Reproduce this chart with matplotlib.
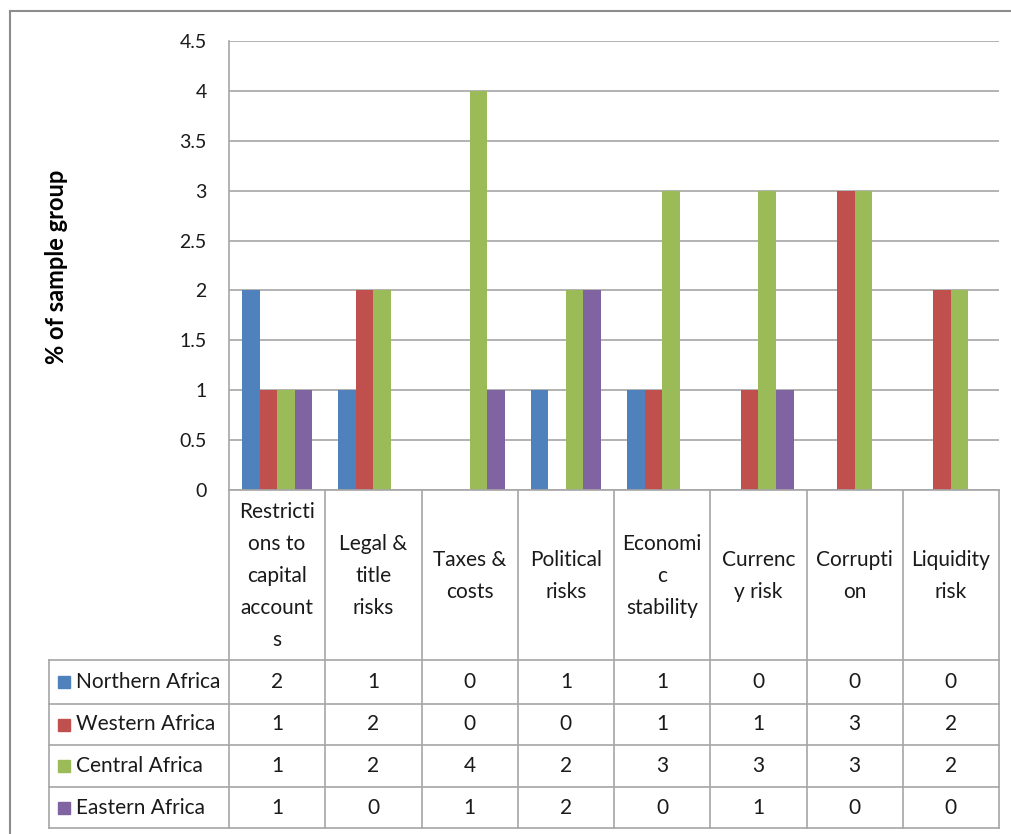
import numpy as np
import matplotlib as mpl
mpl.use('Agg')
from matplotlib import pyplot as plt
from matplotlib.lines import Line2D
from matplotlib.patches import Rectangle

plt.rcParams['font.family'] = ['Lato', 'DejaVu Sans']

categories = ['Restricti\nons to\ncapital\naccount\ns', 'Legal &\ntitle\nrisks', 'Taxes &\ncosts',
              'Political\nrisks', 'Economi\nc\nstability', 'Currenc\ny risk', 'Corrupti\non', 'Liquidity\nrisk']
regions = ['Northern Africa', 'Western Africa', 'Central Africa', 'Eastern Africa']
northern = [2, 1, 0, 1, 1, 0, 0, 0]
western = [1, 2, 0, 0, 1, 1, 3, 2]
central = [1, 2, 4, 2, 3, 3, 3, 2]
eastern = [1, 0, 1, 2, 0, 1, 0, 0]
series = [northern, western, central, eastern]
colors = ['#4F81BD', '#C0504D', '#9BBB59', '#8064A2']
grid_col = '#A6A6A6'

W, H = 1011, 834
fig = plt.figure(figsize=(W/100, H/100), dpi=100)

# pixel helpers (top-left origin)
def fx(px): return px / W
def fy(py): return 1 - py / H

x0, x1, ytop, ybot = 229, 999, 41, 490
ax = fig.add_axes([fx(x0), fy(ybot), fx(x1) - fx(x0), fy(ytop) - fy(ybot)])

n = len(categories)
x = np.arange(n)
bw = 0.73 / 4
for i, vals in enumerate(series):
    ax.bar(x - 0.365 + bw * (i + 0.5), vals, width=bw, color=colors[i], label=regions[i])

ax.set_xlim(-0.5, n - 0.5)
ax.set_ylim(0, 4.5)
ax.set_yticks(np.arange(0, 4.51, 0.5))
ax.set_yticklabels(['0', '0.5', '1', '1.5', '2', '2.5', '3', '3.5', '4', '4.5'])
ax.set_xticks([])
ax.tick_params(axis='y', length=0, pad=16, labelsize=14, colors='#1a1a1a')
ax.yaxis.grid(True, color=grid_col, linewidth=1.2)
ax.set_axisbelow(True)
for s in ['top', 'right', 'bottom']:
    ax.spines[s].set_visible(False)
ax.spines['left'].set_color(grid_col)
ax.spines['left'].set_linewidth(1.2)

fig.text(fx(56), fy(267), '% of sample group', rotation=90, ha='center', va='center',
         fontsize=17, fontweight='bold', color='#000000')

# data table under the plot
cw = (x1 - x0) / n
hdr_bot = 660
rows_y = [660, 704, 745, 787, 828]
leg_x = 49

def hline(xa, xb, y):
    fig.add_artist(Line2D([fx(xa), fx(xb)], [fy(y), fy(y)], color=grid_col, lw=1.2))

def vline(x_, ya, yb):
    fig.add_artist(Line2D([fx(x_), fx(x_)], [fy(ya), fy(yb)], color=grid_col, lw=1.2))

hline(x0, x1, ybot)
for y in rows_y:
    hline(leg_x, x1, y)
for j in range(n + 1):
    vline(x0 + j * cw, ybot, rows_y[-1])
vline(leg_x, hdr_bot, rows_y[-1])

for j, cat in enumerate(categories):
    fig.text(fx(x0 + (j + 0.5) * cw), fy((ybot + hdr_bot) / 2 + 1), cat, ha='center', va='center',
             fontsize=15, linespacing=1.75, color='#1a1a1a')

for i, vals in enumerate(series):
    yc = (rows_y[i] + rows_y[i + 1]) / 2
    fig.add_artist(Rectangle((fx(58), fy(yc + 6)), fx(12), 12 / H, color=colors[i]))
    fig.text(fx(76), fy(yc), regions[i], ha='left', va='center', fontsize=15, color='#1a1a1a')
    for j, v in enumerate(vals):
        fig.text(fx(x0 + (j + 0.5) * cw), fy(yc), str(v), ha='center', va='center',
                 fontsize=15, color='#1a1a1a')

# outer frame
fig.add_artist(Line2D([fx(10), fx(10)], [fy(11), 0], color='#8C8C8C', lw=1.5))
fig.add_artist(Line2D([fx(10), 1], [fy(11), fy(11)], color='#8C8C8C', lw=1.5))

fig.savefig('out.png', dpi=100)
